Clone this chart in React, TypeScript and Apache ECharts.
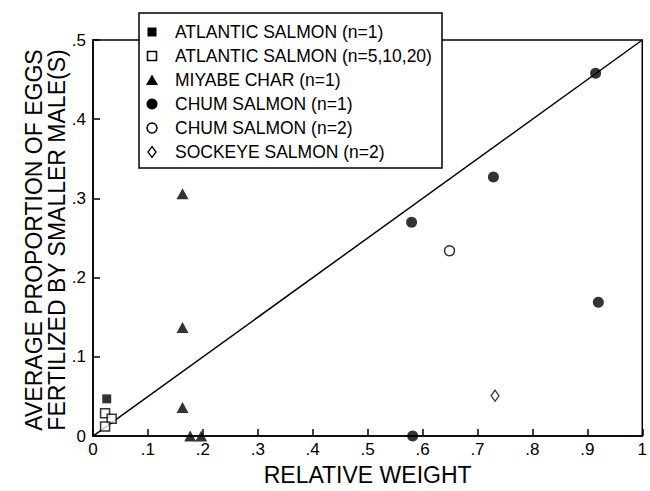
import React, { useEffect, useRef } from "react";
import * as echarts from "echarts";

// ---- data (relative weight, proportion of eggs fertilized by smaller male) ----
const atlanticSingle: number[][] = [[0.025, 0.047]];
const atlanticMulti: number[][] = [[0.022, 0.029], [0.034, 0.022], [0.022, 0.012]];
const miyabeChar: number[][] = [[0.163, 0.306], [0.163, 0.137], [0.163, 0.036], [0.177, 0], [0.197, 0]];
const chumSingle: number[][] = [[0.58, 0.27], [0.729, 0.327], [0.915, 0.458], [0.92, 0.169], [0.582, 0]];
const chumDouble: number[][] = [[0.649, 0.234]];
const sockeye: number[][] = [[0.732, 0.051]];
const equalityLine: number[][] = [[0, 0], [1, 0.5]];

const seriesNames = [
  "ATLANTIC SALMON (n=1)",
  "ATLANTIC SALMON (n=5,10,20)",
  "MIYABE CHAR (n=1)",
  "CHUM SALMON (n=1)",
  "CHUM SALMON (n=2)",
  "SOCKEYE SALMON (n=2)",
];
const xAxisTitle = "RELATIVE WEIGHT";
const yAxisTitleLines = ["AVERAGE PROPORTION OF EGGS", "FERTILIZED BY SMALLER MALE(S)"];

const FONT = "'Liberation Sans', Arial, sans-serif";

const tickLabel = (v: number) => {
  const r = +v.toFixed(1);
  if (r === 0) return "0";
  if (r === 1) return "1";
  return String(r).replace(/^0/, "");
};

export default function App() {
  const ref = useRef<HTMLDivElement>(null);

  useEffect(() => {
    if (!ref.current) return;
    const chart = echarts.init(ref.current, undefined, { renderer: "svg" });

    const black = "#000";
    const filled = { color: black };
    const open = { color: "#fff", borderColor: black, borderWidth: 1.5 };

    // legend built with graphic elements
    const lx = 152;
    const rowY = (i: number) => 32 + i * 24;
    const legendChildren: any[] = [
      { type: "rect", shape: { x: 139, y: 13, width: 303, height: 155 }, style: { fill: "#fff", stroke: black, lineWidth: 1.5 } },
      { type: "rect", shape: { x: lx - 4.5, y: rowY(0) - 4.5, width: 9, height: 9 }, style: { fill: black } },
      { type: "rect", shape: { x: lx - 4.5, y: rowY(1) - 4.5, width: 9, height: 9 }, style: { fill: "#fff", stroke: black, lineWidth: 1.5 } },
      { type: "polygon", shape: { points: [[lx, rowY(2) - 5.5], [lx + 6, rowY(2) + 5], [lx - 6, rowY(2) + 5]] }, style: { fill: black } },
      { type: "circle", shape: { cx: lx, cy: rowY(3), r: 5.5 }, style: { fill: black } },
      { type: "circle", shape: { cx: lx, cy: rowY(4), r: 5 }, style: { fill: "#fff", stroke: black, lineWidth: 1.5 } },
      { type: "polygon", shape: { points: [[lx, rowY(5) - 5.5], [lx + 4, rowY(5)], [lx, rowY(5) + 5.5], [lx - 4, rowY(5)]] }, style: { fill: "#fff", stroke: black, lineWidth: 1.3 } },
    ];
    seriesNames.forEach((n, i) => {
      legendChildren.push({
        type: "text",
        x: 175,
        y: rowY(i),
        style: { text: n, fill: black, font: `17.5px ${FONT}`, textVerticalAlign: "middle", textAlign: "left" },
      });
    });

    const yTitle: any[] = yAxisTitleLines.map((t, i) => ({
      type: "text",
      x: 34 + i * 23,
      y: 240,
      rotation: Math.PI / 2,
      style: { text: t, fill: black, font: `23px ${FONT}`, textAlign: "center", textVerticalAlign: "middle" },
    }));

    chart.setOption({
      animation: false,
      backgroundColor: "#fff",
      textStyle: { fontFamily: FONT, color: black },
      grid: { left: 93, right: 4, top: 40, bottom: 51, show: true, borderColor: black, borderWidth: 1.5 },
      xAxis: {
        type: "value",
        min: 0,
        max: 1,
        interval: 0.1,
        name: xAxisTitle,
        nameLocation: "middle",
        nameGap: 25,
        nameTextStyle: { fontSize: 23, color: black, fontFamily: FONT },
        axisLine: { show: true, lineStyle: { color: black, width: 1.5 } },
        axisTick: { show: true, inside: true, length: 7, lineStyle: { color: black, width: 1.5 } },
        axisLabel: { formatter: tickLabel, fontSize: 17, color: black, margin: 5, fontFamily: FONT },
        splitLine: { show: false },
      },
      yAxis: {
        type: "value",
        min: 0,
        max: 0.5,
        interval: 0.1,
        axisLine: { show: true, lineStyle: { color: black, width: 1.5 } },
        axisTick: { show: true, inside: true, length: 7, lineStyle: { color: black, width: 1.5 } },
        axisLabel: { formatter: tickLabel, fontSize: 17, color: black, margin: 7, fontFamily: FONT },
        splitLine: { show: false },
      },
      graphic: [
        { type: "group", z: 100, children: legendChildren },
        { type: "group", z: 100, children: yTitle },
      ],
      series: [
        {
          type: "line",
          data: equalityLine,
          symbol: "none",
          lineStyle: { color: black, width: 1.5 },
          z: 1,
          silent: true,
        },
        { name: seriesNames[0], type: "scatter", symbol: "rect", symbolSize: 9, itemStyle: filled, data: atlanticSingle, z: 3 },
        { name: seriesNames[1], type: "scatter", symbol: "rect", symbolSize: 9, itemStyle: open, data: atlanticMulti, z: 3 },
        { name: seriesNames[2], type: "scatter", symbol: "triangle", symbolSize: [12, 11], itemStyle: filled, data: miyabeChar, z: 3 },
        { name: seriesNames[3], type: "scatter", symbol: "circle", symbolSize: 11, itemStyle: filled, data: chumSingle, z: 3 },
        { name: seriesNames[4], type: "scatter", symbol: "circle", symbolSize: 10, itemStyle: open, data: chumDouble, z: 3 },
        { name: seriesNames[5], type: "scatter", symbol: "diamond", symbolSize: [8, 11], itemStyle: { ...open, borderWidth: 1.3 }, data: sockeye, z: 3 },
      ],
    });

    return () => chart.dispose();
  }, []);

  return (
    <div
      ref={ref}
      style={{ position: "fixed", left: 0, top: 0, width: 650, height: 491, background: "#fff" }}
    />
  );
}
